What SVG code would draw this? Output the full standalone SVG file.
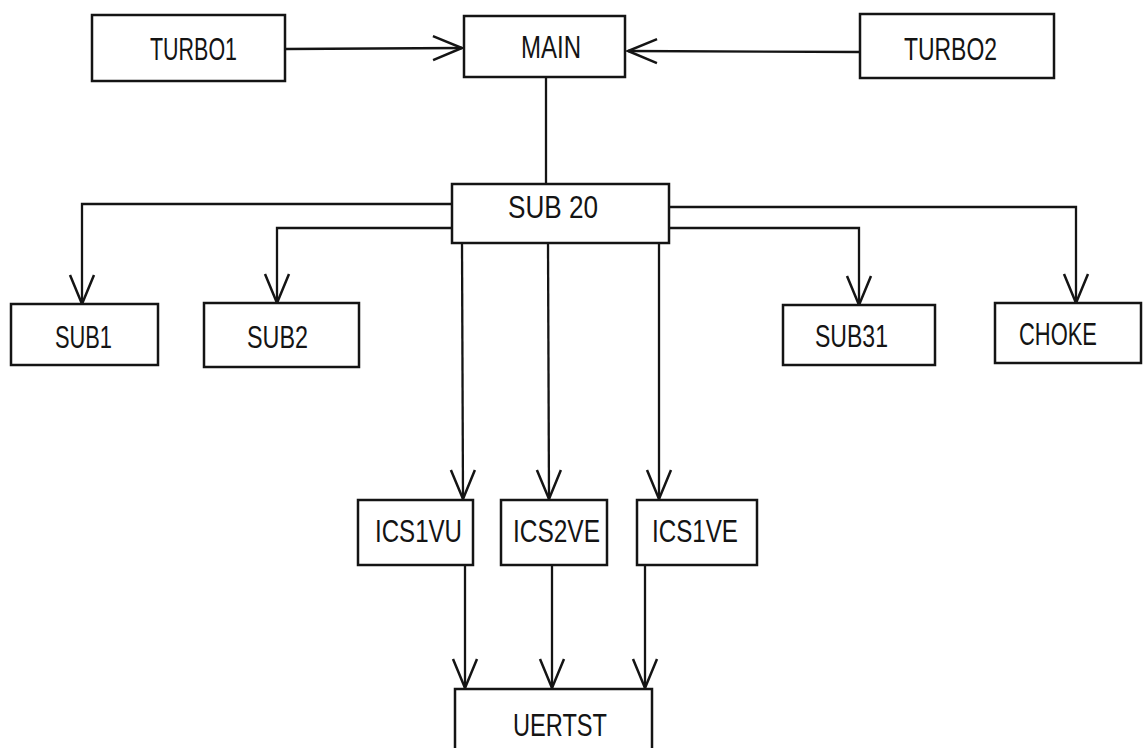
<svg xmlns="http://www.w3.org/2000/svg" width="1145" height="748" viewBox="0 0 1145 748">
<style>
  .box { fill: #ffffff; stroke: #141414; stroke-width: 2.5; }
  .lbl { font-family: "Liberation Sans", "DejaVu Sans", sans-serif; font-size: 31px; fill: #141414; }
  .wire { fill: none; stroke: #141414; stroke-width: 2.3; }
  .arr { marker-end: url(#ah); }
</style>
<defs>
  <marker id="ah" viewBox="-32 -15 36 30" refX="0" refY="0" markerWidth="36" markerHeight="30" markerUnits="userSpaceOnUse" orient="auto">
    <path d="M-29,-12 L0,0 L-29,12" fill="none" stroke="#141414" stroke-width="2.5"/>
  </marker>
</defs>
<rect width="1145" height="748" fill="#ffffff"/>

<g id="connectors">
  <path class="wire arr" d="M285,49 L462,48"/>
  <path class="wire arr" d="M860,52 L628,51"/>
  <path class="wire" d="M546,77 L546,184"/>
  <path class="wire arr" d="M452,204 L82,204 L82,304"/>
  <path class="wire arr" d="M452,228 L277,228 L277,303"/>
  <path class="wire arr" d="M669,207 L1076,207 L1076,303"/>
  <path class="wire arr" d="M669,228 L859,228 L859,305"/>
  <path class="wire arr" d="M462,243 L463,499"/>
  <path class="wire arr" d="M548,243 L549,499"/>
  <path class="wire arr" d="M659,243 L659,499"/>
  <path class="wire arr" d="M465,565 L465,688"/>
  <path class="wire arr" d="M552,565 L552,688"/>
  <path class="wire arr" d="M645,565 L645,688"/>
</g>

<g id="TURBO1"><rect class="box" x="92" y="15" width="193" height="66"/><text class="lbl" x="150" y="60" textLength="87" lengthAdjust="spacingAndGlyphs">TURBO1</text></g>
<g id="MAIN"><rect class="box" x="464" y="16" width="161" height="61"/><text class="lbl" x="521" y="58" textLength="60" lengthAdjust="spacingAndGlyphs">MAIN</text></g>
<g id="TURBO2"><rect class="box" x="860" y="14" width="194" height="64"/><text class="lbl" x="904" y="60" textLength="93" lengthAdjust="spacingAndGlyphs">TURBO2</text></g>
<g id="SUB20"><rect class="box" x="452" y="184" width="217" height="59"/><text class="lbl" x="508" y="218" textLength="90" lengthAdjust="spacingAndGlyphs">SUB 20</text></g>
<g id="SUB1"><rect class="box" x="11" y="304" width="147" height="61"/><text class="lbl" x="55" y="348" textLength="57" lengthAdjust="spacingAndGlyphs">SUB1</text></g>
<g id="SUB2"><rect class="box" x="204" y="303" width="155" height="64"/><text class="lbl" x="247" y="348" textLength="61" lengthAdjust="spacingAndGlyphs">SUB2</text></g>
<g id="SUB31"><rect class="box" x="783" y="305" width="152" height="60"/><text class="lbl" x="815" y="347" textLength="73" lengthAdjust="spacingAndGlyphs">SUB31</text></g>
<g id="CHOKE"><rect class="box" x="995" y="303" width="146" height="60"/><text class="lbl" x="1019" y="345" textLength="78" lengthAdjust="spacingAndGlyphs">CHOKE</text></g>
<g id="ICS1VU"><rect class="box" x="358" y="500" width="115" height="65"/><text class="lbl" x="375" y="542" textLength="87" lengthAdjust="spacingAndGlyphs">ICS1VU</text></g>
<g id="ICS2VE"><rect class="box" x="501" y="500" width="106" height="65"/><text class="lbl" x="513" y="542" textLength="87" lengthAdjust="spacingAndGlyphs">ICS2VE</text></g>
<g id="ICS1VE"><rect class="box" x="637" y="500" width="120" height="65"/><text class="lbl" x="652" y="542" textLength="86" lengthAdjust="spacingAndGlyphs">ICS1VE</text></g>
<g id="UERTST"><rect class="box" x="455" y="689" width="197" height="80"/><text class="lbl" x="513" y="736" textLength="94" lengthAdjust="spacingAndGlyphs">UERTST</text></g>
</svg>
